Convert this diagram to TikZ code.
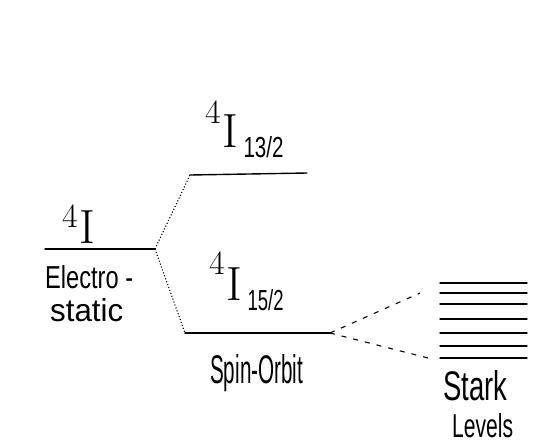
\documentclass[tikz,border=0pt]{standalone}
\usepackage{fontspec}
\usepackage{graphicx}
\newfontfamily\wordfont{Liberation Sans}
\newcommand\hw[3]{\resizebox{#1}{#2}{#3}}
\newcommand\four[1]{{\fontsize{34}{34}\selectfont\raisebox{#1}{4}}}
\newcommand\bigI{{\fontsize{48}{48}\selectfont I}}
\newcommand\subs[2]{{\wordfont\fontsize{26}{26}\selectfont\raisebox{-10pt}{\hw{#1}{21pt}{#2}}}}
\begin{document}
\begin{tikzpicture}[x=1pt,y=-1pt,
  level/.style={line width=1.4pt, line cap=round},
  split/.style={line width=1.1pt, dotted},
  stark/.style={line width=1.1pt, dash pattern=on 5pt off 7pt},
  word/.style={inner sep=0pt, font=\wordfont\fontsize{34}{34}\selectfont},
  term/.style={inner sep=0pt}]
\useasboundingbox (0,0) rectangle (540,445);
% level end points
\coordinate (a1) at (45,249);
\coordinate (a2) at (155,249);
\coordinate (u1) at (190,175);
\coordinate (u2) at (307,173);
\coordinate (l1) at (185,333);
\coordinate (l2) at (330,333);
\draw[level] (a1) -- (a2);
\draw[level] (u1) -- (u2);
\draw[level] (l1) -- (l2);
\draw[split] (a2) -- (u1);
\draw[split] (a2) -- (l1);
% Stark levels
\foreach \i/\y in {1/283,2/293,3/304,4/319,5/333,6/346,7/358}{
  \coordinate (s\i w) at (440,\y);
  \coordinate (s\i e) at (527,\y);
  \draw[level] (s\i w) -- (s\i e);
}
\coordinate (p1) at (420,293);
\coordinate (p2) at (428,358);
\draw[stark] (l2) -- (p1);
\draw[stark] (l2) -- (p2);
% labels
\node[term, anchor=base west] (t0) at (62,243) {\four{16pt}\kern2pt\bigI};
\node[term, anchor=base west] (t1) at (205,147) {\four{24pt}\kern2pt\bigI\kern5pt\subs{40pt}{13/2}};
\node[term, anchor=base west] (t2) at (209,300) {\four{26pt}\kern2pt\bigI\kern5pt\subs{36pt}{15/2}};
\node[word, anchor=base west] (w1) at (45,288) {\hw{88pt}{23pt}{Electro -}};
\node[word, anchor=base west] (w2) at (50,321) {\hw{73pt}{23pt}{static}};
\node[word, anchor=base west] (w3) at (210,383) {\hw{93pt}{29pt}{Spin-Orbit}};
\node[word, anchor=base west] (w4) at (443,400) {\hw{64pt}{30pt}{Stark}};
\node[word, anchor=base west] (w5) at (452,437) {\hw{61pt}{24pt}{Levels}};
\end{tikzpicture}
\end{document}
